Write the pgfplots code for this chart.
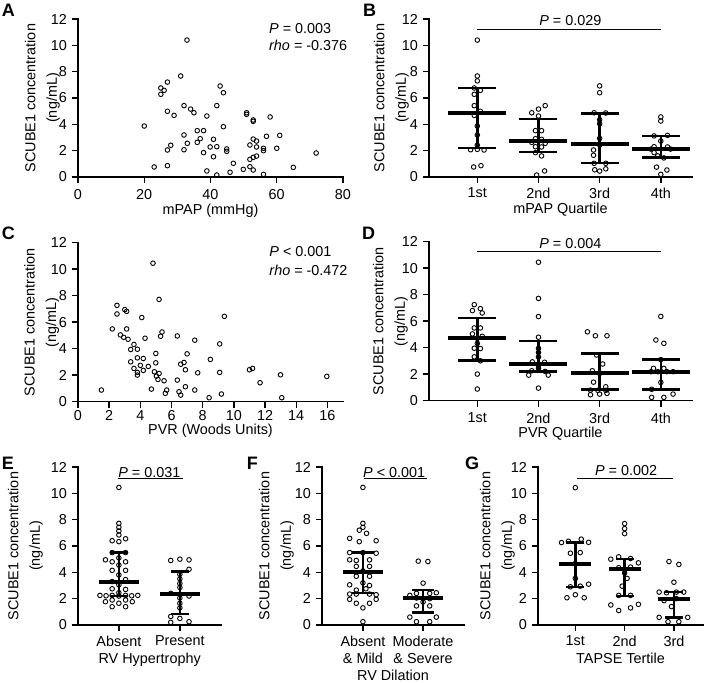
\documentclass[border=0pt]{standalone}
\usepackage{fontspec}
\setmainfont{Liberation Sans}
\usepackage{pgfplots}
\pgfplotsset{compat=1.18}

\pgfplotsset{
  prism/.style={
    scale only axis, anchor=south west,
    axis lines=left,
    axis line style={-, line width=1.4pt, line cap=rect, black},
    tick align=outside,
    major tick length=6pt,
    every tick/.style={black, line width=1.4pt},
    ymin=0, ymax=12, ytick={0,2,4,6,8,10,12},
    enlargelimits=false,
    clip=false,
    /pgf/number format/assume math mode=true,
    xticklabel style={inner sep=1pt, yshift=-3.8pt},
    ylabel={SCUBE1 concentration\\(ng/mL)},
  },
  ylabgap/.style={every axis y label/.style={at={([xshift=-#1]axis description cs:0,0.5)}, rotate=90, anchor=south, align=center, inner sep=0pt, font=\fontsize{14.4}{21.5}\selectfont}},
  xlabgap/.style={every axis x label/.style={at={([yshift=-#1]axis description cs:0.5,0)}, anchor=north, inner sep=0pt}},
  dots/.style={only marks, mark=o, mark size=2.3pt, mark options={line width=0.9pt, black}},
  median/.style={only marks, mark=-, mark size=#1, mark options={line width=4pt, black}},
  caps/.style={only marks, mark=-, mark size=#1, mark options={line width=2.4pt, black}},
  iqr/.style={line width=2.4pt, black, mark=none},
}

\begin{document}
\fontsize{14.4}{17}\selectfont
\begin{tikzpicture}
\path[use as bounding box] (0,0) rectangle (705pt,683pt);
\tikzset{plabel/.style={anchor=north west, inner sep=0pt, font=\bfseries\fontsize{18}{20}\selectfont}}
\node[plabel] at (1.7pt,679pt) {A};
\node[plabel] at (363pt,679.5pt) {B};
\node[plabel] at (1.7pt,456pt) {C};
\node[plabel] at (362pt,456pt) {D};
\node[plabel] at (1.7pt,226.3pt) {E};
\node[plabel] at (246.7pt,226.3pt) {F};
\node[plabel] at (465pt,226.3pt) {G};

% ---------------- A ----------------
\begin{axis}[prism, at={(78pt,506pt)}, width=265pt, height=158pt,
  xmin=0, xmax=80, xtick={0,20,40,60,80}, xlabel={mPAP (mmHg)},
  ylabgap=18pt, xlabgap=27pt, xticklabel style={yshift=-1pt}]
\addplot[dots] table {
x y
32.9 10.40
31.0 7.67
27.0 7.21
42.9 6.91
25.0 6.76
26.0 6.58
25.0 6.28
43.9 6.40
32.0 5.42
41.9 5.42
34.0 5.16
35.0 4.88
27.0 4.99
29.0 4.68
38.9 4.63
50.9 4.88
50.9 4.76
52.9 4.33
52.9 4.23
58.0 4.56
20.0 3.87
43.9 3.82
36.0 3.52
37.9 3.52
32.0 3.19
36.9 2.91
40.9 2.86
36.0 2.63
33.0 2.56
28.0 2.41
27.0 2.05
32.0 2.07
39.9 2.28
41.9 2.30
44.9 2.13
44.9 1.95
37.9 1.85
40.9 1.54
52.9 2.88
53.9 2.73
51.9 2.43
53.9 2.28
56.9 3.09
60.9 3.16
56.0 2.18
56.0 2.00
60.0 2.18
71.9 1.82
46.9 1.04
53.9 1.59
52.9 1.49
51.9 1.34
51.9 0.78
52.9 0.53
49.9 0.58
45.9 0.36
56.0 0.20
41.9 0.15
65.0 0.73
23.0 0.76
27.0 0.86
38.9 0.46
};
\node[anchor=base west, inner sep=0pt] at (axis cs:57.66,10.91) {\textit{P} = 0.003};
\node[anchor=base west, inner sep=0pt] at (axis cs:57.66,9.59) {\textit{rho} = -0.376};
\end{axis}

% ---------------- B ----------------
\begin{axis}[prism, at={(429pt,506pt)}, width=263pt, height=158pt,
  xmin=0.21, xmax=4.51, xtick={1,2,3,4}, xticklabels={1st,2nd,3rd,4th},
  xlabel={mPAP Quartile}, ylabgap=20pt, xlabgap=25.5pt]
\addplot[dots] table {
x y
1 10.40
1 7.67
1 7.30
0.95 6.76
1.05 6.58
0.95 6.28
0.95 5.42
1.05 4.99
0.95 4.68
1 3.87
1 3.19
1 2.41
0.89 2.07
1 2.10
1.11 2.05
1.06 0.86
0.94 0.76
2.11 5.42
2 5.16
1.89 4.88
2 4.63
1.95 3.52
2.05 3.52
1.95 2.91
2.05 2.86
1.89 2.63
2.11 2.56
1.95 2.30
2.05 2.28
1.95 1.85
2.05 1.60
1.97 0.15
2.1 0.46
3 6.92
3 6.40
2.91 4.88
3.1 4.86
3 4.35
3 4.05
3 2.93
3 2.43
2.9 2.05
2.9 1.65
2.91 1.04
3.1 1.04
2.92 0.55
3.0 0.45
3.1 0.62
4 4.56
4 4.25
3.89 3.12
4.11 3.16
4 2.73
3.89 2.30
4.11 2.28
3.84 2.12
4.16 2.12
3.89 1.85
3.95 1.60
4.05 1.45
3.93 0.75
4.1 0.53
4 0.20
};
\addplot[iqr] coordinates {(1,2.22) (1,6.74)};
\addplot[iqr] coordinates {(2,1.92) (2,4.39)};
\addplot[iqr] coordinates {(3,1.08) (3,4.83)};
\addplot[iqr] coordinates {(4,1.49) (4,3.10)};
\addplot[caps=19pt] coordinates {(1,2.22) (1,6.74) (2,1.92) (2,4.39) (3,1.08) (3,4.83) (4,1.49) (4,3.10)};
\addplot[median=29pt] coordinates {(1,4.83) (2,2.75) (3,2.48) (4,2.12)};
\draw[line width=1pt] (axis cs:1,11.22) -- (axis cs:4,11.22);
\node[anchor=base, inner sep=0pt] at (axis cs:2.52,11.47) {\textit{P} = 0.029};
\end{axis}

% ---------------- C ----------------
\begin{axis}[prism, at={(78pt,281.3pt)}, width=265pt, height=159pt,
  xmin=0, xmax=17, xtick={0,2,4,6,8,10,12,14,16}, xlabel={PVR (Woods Units)},
  ylabgap=18.7pt, xlabgap=21.8pt, xticklabel style={yshift=2pt}]
\addplot[dots] table {
x y
4.81 10.45
5.20 7.72
2.50 7.27
2.50 6.62
3.00 6.95
3.12 6.82
4.09 6.35
2.20 5.49
3.12 5.49
5.39 5.26
5.30 4.94
2.72 5.04
2.93 4.86
3.21 4.71
4.30 4.79
6.37 4.96
7.49 4.64
3.59 4.32
3.81 3.96
3.38 3.94
4.99 3.64
7.00 3.61
3.81 3.31
4.19 3.26
3.38 3.01
4.99 2.93
6.80 2.96
6.59 2.83
4.00 2.74
4.51 2.66
3.59 2.51
4.19 2.36
6.89 2.41
4.90 2.26
5.20 2.13
3.81 2.21
3.81 2.01
5.03 1.93
5.13 1.68
5.52 1.58
8.49 3.19
7.68 2.18
6.37 1.63
4.71 0.95
5.69 0.88
5.60 0.63
6.48 0.75
6.59 0.50
6.89 1.13
7.49 0.88
1.50 0.88
8.41 0.30
9.39 6.44
9.09 4.36
9.09 2.21
11.0 2.41
11.2 2.51
11.68 1.43
12.99 2.03
15.96 1.91
9.20 0.58
13.07 0.30
};
\node[anchor=base west, inner sep=0pt] at (axis cs:12.27,10.94) {\textit{P} < 0.001};
\node[anchor=base west, inner sep=0pt] at (axis cs:12.27,9.56) {\textit{rho} = -0.472};
\end{axis}

% ---------------- D ----------------
\begin{axis}[prism, at={(429pt,282.3pt)}, width=263pt, height=159pt,
  xmin=0.21, xmax=4.51, xtick={1,2,3,4}, xticklabels={1st,2nd,3rd,4th},
  xlabel={PVR Quartile}, ylabgap=21pt, xlabgap=26pt, xticklabel style={yshift=-1pt}]
\addplot[dots] table {
x y
0.95 7.25
1.05 6.95
0.92 6.80
1.08 6.62
0.95 5.49
1.05 5.49
0.92 5.04
1.08 4.86
1 4.71
1 4.32
0.95 3.96
1.05 3.94
0.95 3.31
1.05 3.01
1 2.01
1 0.88
2 10.45
2 7.72
2 6.35
2 4.79
2 3.95
2 3.64
2 3.30
1.9 2.93
2.1 2.90
2 2.66
2 2.45
1.89 2.26
2.11 2.21
1.84 1.93
2.16 1.93
2 0.95
2.8 5.20
2.93 4.90
3.12 4.90
2.95 3.45
3.05 2.77
2.88 2.26
3 2.06
2.9 1.40
3.1 1.05
2.85 0.80
2.97 0.78
3.1 0.78
2.85 0.45
3 0.50
3.12 0.55
4 6.36
3.92 4.58
4.05 4.33
4 3.10
3.88 2.44
4.05 2.44
3.84 2.19
3.95 2.19
4.1 2.19
4.2 2.19
4 1.38
3.85 0.86
4.2 0.50
3.85 0.25
4.05 0.25
};
\addplot[iqr] coordinates {(1,3.02) (1,6.26)};
\addplot[iqr] coordinates {(2,2.19) (2,4.50)};
\addplot[iqr] coordinates {(3,0.83) (3,3.55)};
\addplot[iqr] coordinates {(4,0.83) (4,3.12)};
\addplot[caps=19pt] coordinates {(1,3.02) (1,6.26) (2,2.19) (2,4.50) (3,0.83) (3,3.55) (4,0.83) (4,3.12)};
\addplot[median=29pt] coordinates {(1,4.70) (2,2.74) (3,2.06) (4,2.14)};
\draw[line width=1pt] (axis cs:1,11.25) -- (axis cs:4,11.25);
\node[anchor=base, inner sep=0pt] at (axis cs:2.52,11.45) {\textit{P} = 0.004};
\end{axis}

% ---------------- E ----------------
\begin{axis}[prism, at={(78pt,58pt)}, width=141pt, height=158pt,
  xmin=0.33, xmax=2.68, xtick={1,2}, xticklabels={Absent,Present},
  xlabel={RV Hypertrophy}, ylabgap=35pt, xlabgap=28.3pt]
\addplot[dots] table {
x y
1 10.45
1 7.72
1 7.42
1 7.14
1 6.84
1.11 6.55
0.89 6.40
1 6.33
0.89 5.50
1.11 5.50
1 5.10
0.78 4.95
0.89 4.80
1.11 4.80
1 4.55
0.89 4.15
1.11 4.15
1 3.80
1.11 3.45
0.89 3.30
1 3.05
0.89 2.75
1.11 2.70
1 2.45
0.69 2.25
0.79 2.22
0.89 2.25
1.11 2.25
1.21 2.22
1.31 2.25
1 2.20
0.78 1.77
0.89 1.90
1.11 1.90
1.22 1.77
1 1.65
0.89 1.39
1.11 1.39
1.85 4.90
2 5.00
2.15 4.95
2.15 4.23
2 3.85
2 3.50
2 3.15
2 2.85
1.85 2.40
2.15 2.20
2 2.05
2 1.65
2 1.30
1.85 0.65
2 0.50
1.85 0.20
2.15 0.25
};
\addplot[iqr] coordinates {(1,2.20) (1,5.52)};
\addplot[iqr] coordinates {(2,0.84) (2,4.05)};
\addplot[caps=9pt] coordinates {(1,2.20) (1,5.52) (2,0.84) (2,4.05)};
\addplot[median=20pt] coordinates {(1,3.24) (2,2.38)};
\draw[line width=1pt] (axis cs:0.98,11.09) -- (axis cs:2.05,11.09);
\node[anchor=base, inner sep=0pt] at (axis cs:1.5,11.24) {\textit{P} = 0.031};
\end{axis}

% ---------------- F ----------------
\begin{axis}[prism, at={(322pt,58pt)}, width=142pt, height=158pt,
  xmin=0.32, xmax=2.68, xtick={1,2}, xticklabels={{Absent\\\& Mild},{Moderate\\\& Severe}},
  xticklabel style={align=center},
  xlabel={RV Dilation}, ylabgap=28pt, xlabgap=45pt]
\addplot[dots] table {
x y
1 10.45
1 7.72
1 7.42
0.94 7.20
1.06 6.96
0.78 6.58
1.22 6.40
0.94 6.33
0.78 5.50
1 5.50
1.22 5.45
0.78 4.95
0.89 4.90
1.11 4.95
0.89 4.45
1.11 4.45
1 4.10
0.89 3.70
1.11 3.70
0.78 3.05
1 3.20
1.11 3.00
0.89 2.65
1.05 2.75
0.78 2.35
0.89 2.35
1.11 2.35
1.22 2.30
0.78 1.95
1.22 1.95
0.89 1.65
1.11 1.65
1 1.30
1 0.25
1.92 4.85
2.08 4.82
2 3.18
1.78 2.25
1.89 2.40
2.11 2.40
2.22 2.45
1.89 2.05
2.11 2.00
2 1.75
1.89 1.45
2.11 1.45
1.78 0.60
2.22 0.60
1.89 0.25
2.11 0.25
};
\addplot[iqr] coordinates {(1,2.42) (1,5.52)};
\addplot[iqr] coordinates {(2,0.95) (2,2.66)};
\addplot[caps=11pt] coordinates {(1,2.42) (1,5.52) (2,0.95) (2,2.66)};
\addplot[median=20pt] coordinates {(1,4.05) (2,2.03)};
\draw[line width=1pt] (axis cs:1.01,11.09) -- (axis cs:2.06,11.09);
\node[anchor=base, inner sep=0pt] at (axis cs:1.52,11.24) {\textit{P} < 0.001};
\end{axis}

% ---------------- G ----------------
\begin{axis}[prism, at={(538pt,58pt)}, width=165pt, height=158pt,
  xmin=0.243, xmax=3.59, xtick={1,2,3}, xticklabels={1st,2nd,3rd},
  xlabel={TAPSE Tertile}, ylabgap=23pt, xlabgap=28.3pt]
\addplot[dots] table {
x y
1 10.43
0.72 6.26
0.86 6.36
1.12 6.52
1.27 6.28
0.9 5.45
1.1 5.50
1 4.67
1 3.54
0.9 2.90
1.1 2.95
1.27 3.10
0.83 2.07
1 2.30
1.18 2.07
2 7.70
2 7.32
2 6.94
1.72 5.00
1.88 5.18
2.12 5.05
2.28 4.72
1.88 4.35
2.12 4.40
2 3.95
2.05 3.54
1.95 2.95
1.88 2.25
2.12 2.25
1.72 1.52
1.88 1.10
2.12 1.30
2.28 1.57
2.9 4.82
3.1 4.60
3 3.25
2.7 2.50
2.85 2.45
3.05 2.50
3.2 2.50
2.8 1.85
3.05 2.00
2.95 1.40
2.7 0.58
2.88 0.25
3.1 0.25
3.28 0.58
};
\addplot[iqr] coordinates {(1,2.90) (1,6.26)};
\addplot[iqr] coordinates {(2,2.20) (2,5.00)};
\addplot[iqr] coordinates {(3,0.58) (3,2.52)};
\addplot[caps=9pt] coordinates {(1,2.90) (1,6.26) (2,2.20) (2,5.00) (3,0.58) (3,2.52)};
\addplot[median=16pt] coordinates {(1,4.67) (2,4.22) (3,1.97)};
\draw[line width=1pt] (axis cs:1.04,11.09) -- (axis cs:2.98,11.09);
\node[anchor=base, inner sep=0pt] at (axis cs:2.03,11.34) {\textit{P} = 0.002};
\end{axis}
\end{tikzpicture}
\end{document}
